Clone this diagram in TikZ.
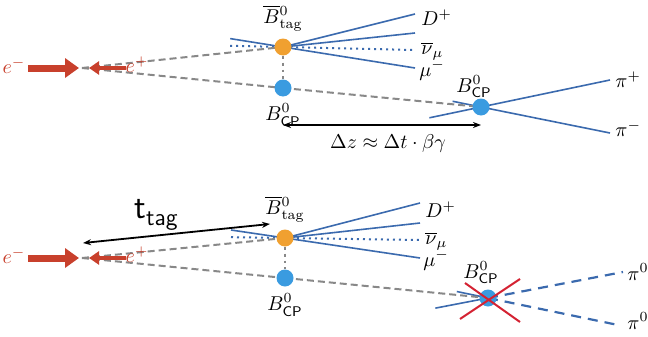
\documentclass[tikz,border=0pt]{standalone}
\usepackage{amsmath}
\usepackage{amssymb}
\usetikzlibrary{arrows.meta, positioning, calc}

\definecolor{trackblue}{HTML}{3B6AAE}
\definecolor{dotorange}{HTML}{F0A030}
\definecolor{dotblue}{HTML}{3A9BE0}
\definecolor{beamred}{HTML}{C8402C}
\definecolor{vetored}{HTML}{D42232}
\definecolor{flightgray}{HTML}{888888}

\pgfdeclarelayer{back}
\pgfsetlayers{back,main}

\begin{document}
\begin{tikzpicture}[
    x=0.5pt, y=-0.5pt,
    tagdot/.style={circle, fill=dotorange, inner sep=0pt, minimum size=8.5pt},
    cpdot/.style={circle, fill=dotblue, inner sep=0pt, minimum size=8.5pt},
    beam/.style={-{Triangle[length=7pt,width=9.5pt]}, line width=3.5pt, draw=beamred},
    beamback/.style={-{Triangle[length=5pt,width=6.5pt]}, line width=2.2pt, draw=beamred},
    beamtxt/.style={text=beamred, inner sep=1pt},
    flight/.style={draw=flightgray, line width=1pt, dash pattern=on 3.5pt off 2pt},
    link/.style={draw=flightgray, line width=1.4pt, dotted},
    track/.style={draw=trackblue, line width=0.8pt},
    neutrino/.style={track, line width=1pt, dotted},
    pizero/.style={track, line width=1.1pt, dash pattern=on 5pt off 3.5pt},
    veto/.style={draw=vetored, line width=1pt},
    measure/.style={{Stealth[length=4pt]}-{Stealth[length=4pt]}, line width=0.9pt},
    lbl/.style={inner sep=1pt, anchor=west}
]
\useasboundingbox (0,0) rectangle (648,337);

% upper event: both B decay
\node[tagdot] (tag) at (283,47) {};
\node[cpdot] (cp) at (283,88) {};
\node[cpdot] (cpv) at (481,107) {};
\coordinate (ip) at (82,68);
\coordinate (emtail) at (28,68);
\coordinate (emhead) at (79,68);
\coordinate (eptail) at (126,68);
\coordinate (ephead) at (89,68);
\node[beamtxt] (em) at (14,66) {$e^-$};
\node[beamtxt] (ep) at (137,65) {$e^+$};

\coordinate (dp) at (415,14);
\coordinate (kx) at (415,33);
\coordinate (nu) at (415,50);
\coordinate (mu) at (415,68);
\coordinate (pip) at (610,80);
\coordinate (pim) at (610,133);
\node[lbl] (dplbl) at (419,18) {$D^+$};
\node[lbl] (nulbl) at (419,51) {$\overline{\nu}_\mu$};
\node[lbl] (mulbl) at (417,70) {$\mu^-$};
\node[lbl] (piplbl) at (613,80) {$\pi^+$};
\node[lbl] (pimlbl) at (613,129) {$\pi^-$};

\node[above=0pt of tag] (taglbl) {$\overline{B}{}^0_{\text{tag}}$};
\node[below=0pt of cp] (cplbl) {$B^0_{\textsf{CP}}$};
\node (cpvlbl) at (474,87) {$B^0_{\textsf{CP}}$};

\coordinate (dzl) at (283,125);
\coordinate (dzr) at (481,125);
\node (dzlbl) at (388,143) {$\Delta z \approx \Delta t \cdot \beta\gamma$};

\begin{pgfonlayer}{back}
\draw[track] ($(tag.center)!-0.4!(mu)$) -- (mu);
\draw[neutrino] ($(tag.center)!-0.4!(nu)$) -- (nu);
\draw[track] (tag.center) -- (dp);
\draw[track] (tag.center) -- (kx);
\draw[track] ($(cpv.center)!-0.4!(pip)$) -- (pip);
\draw[track] ($(cpv.center)!-0.22!(pim)$) -- (pim);
\draw[flight] (ip) -- (tag.center);
\draw[flight] (ip) -- (cp.center);
\draw[flight] (cp.center) -- (cpv.center);
\draw[link] (tag) -- (cp);
\end{pgfonlayer}
\draw[beam] (emtail) -- (emhead);
\draw[beamback] (eptail) -- (ephead);
\draw[measure] (dzl) -- (dzr);

% lower event: CP side to pi0 pi0
\node[tagdot] (tagb) at (285,238) {};
\node[cpdot] (cpb) at (285,278) {};
\node[cpdot] (cpvb) at (488,298) {};
\coordinate (ipb) at (82,258);
\coordinate (emtailb) at (28,258);
\coordinate (emheadb) at (79,258);
\coordinate (eptailb) at (126,258);
\coordinate (epheadb) at (89,258);
\node[beamtxt] (emb) at (14,256) {$e^-$};
\node[beamtxt] (epb) at (137,255) {$e^+$};

\coordinate (dpb) at (420,203);
\coordinate (kxb) at (420,223);
\coordinate (nub) at (420,240);
\coordinate (mub) at (420,258);
\coordinate (pza) at (623,272);
\coordinate (pzb) at (618,325);
\node[lbl] (dplblb) at (423,210) {$D^+$};
\node[lbl] (nulblb) at (423,241) {$\overline{\nu}_\mu$};
\node[lbl] (mulblb) at (421,260) {$\mu^-$};
\node[lbl] (pzalbl) at (625,272) {$\pi^0$};
\node[lbl] (pzblbl) at (625,321) {$\pi^0$};

\node[above=0pt of tagb] (taglblb) {$\overline{B}{}^0_{\text{tag}}$};
\node[below=0pt of cpb] (cplblb) {$B^0_{\textsf{CP}}$};
\node (cpvlblb) at (481,273) {$B^0_{\textsf{CP}}$};

\coordinate (ttr) at (270,224);
\coordinate (ttl) at (83,243);
\node (ttlbl) at (156,215) {\textsf{\LARGE t\raisebox{-0.5ex}{\large tag}}};

\coordinate (vxa) at (465,283);
\coordinate (vxb) at (520,322);
\coordinate (vxc) at (460,319);
\coordinate (vxd) at (520,279);

\begin{pgfonlayer}{back}
\draw[track] ($(tagb.center)!-0.4!(mub)$) -- (mub);
\draw[neutrino] ($(tagb.center)!-0.4!(nub)$) -- (nub);
\draw[track] (tagb.center) -- (dpb);
\draw[track] (tagb.center) -- (kxb);
\draw[track] ($(cpvb.center)!-0.39!(pza)$) -- (cpvb.center);
\draw[track] ($(cpvb.center)!-0.24!(pzb)$) -- (cpvb.center);
\draw[pizero] (cpvb.center) -- (pza);
\draw[pizero] (cpvb.center) -- (pzb);
\draw[flight] (ipb) -- (tagb.center);
\draw[flight] (ipb) -- (cpb.center);
\draw[flight] (cpb.center) -- (cpvb.center);
\draw[link] (tagb) -- (cpb);
\end{pgfonlayer}
\draw[beam] (emtailb) -- (emheadb);
\draw[beamback] (eptailb) -- (epheadb);
\draw[measure] (ttr) -- (ttl);
\draw[veto] (vxa) -- (vxb);
\draw[veto] (vxc) -- (vxd);
\end{tikzpicture}
\end{document}
